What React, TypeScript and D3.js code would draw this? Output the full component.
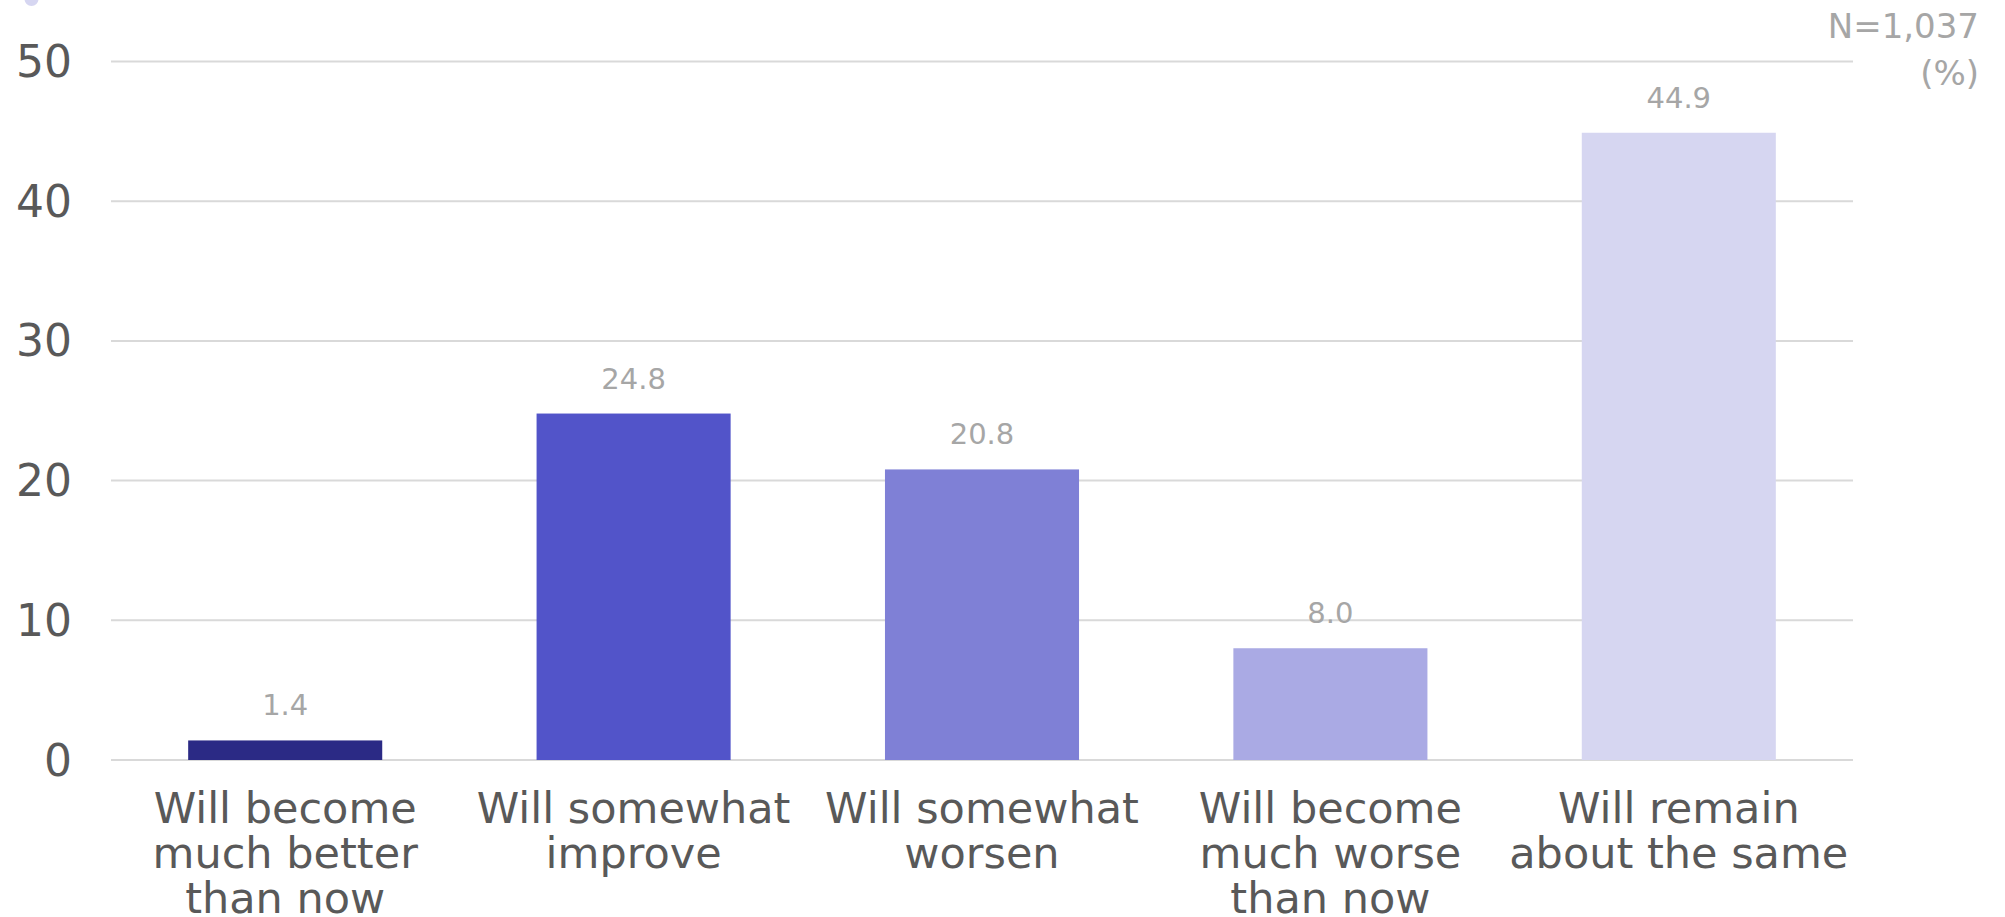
import React from "react";
import * as d3 from "d3";

const categories: string[][] = [
  ["Will become", "much better", "than now"],
  ["Will somewhat", "improve"],
  ["Will somewhat", "worsen"],
  ["Will become", "much worse", "than now"],
  ["Will remain", "about the same"],
];
const values: number[] = [1.4, 24.8, 20.8, 8.0, 44.9];
const valueLabels: string[] = ["1.4", "24.8", "20.8", "8.0", "44.9"];
const barColors: string[] = ["#2b2a85", "#5254c9", "#7f80d6", "#aaaae4", "#d6d6f1"];
const yTicks: number[] = [0, 10, 20, 30, 40, 50];
const noteLines: string[] = ["N=1,037", "(%)"];

const W = 2005;
const H = 917;
const FONT = "'DejaVu Sans', Verdana, sans-serif";

export default function App() {
  const left = 111;
  const right = 1853;
  const y0 = 760;
  const y50 = 61.5;

  const x = d3
    .scaleBand<number>()
    .domain(values.map((_, i) => i))
    .range([left, right])
    .paddingInner(0.443)
    .paddingOuter(0.2215);
  const y = d3.scaleLinear().domain([0, 50]).range([y0, y50]);

  return (
    <svg
      width={W}
      height={H}
      style={{ position: "absolute", left: 0, top: 0, background: "#fff" }}
      fontFamily={FONT}
    >
      <rect x={0} y={0} width={W} height={H} fill="#fff" />
      <circle cx={31.5} cy={-1} r={7} fill="#d6d6f1" />
      {yTicks.map((t) => (
        <g key={t}>
          <line x1={left} x2={right} y1={y(t)} y2={y(t)} stroke="#d9d9d9" strokeWidth={2} />
          <text
            x={72}
            y={y(t)}
            textAnchor="end"
            dominantBaseline="central"
            fontSize={44}
            fill="#595959"
          >
            {t}
          </text>
        </g>
      ))}
      {values.map((v, i) => (
        <rect
          key={i}
          x={x(i)!}
          y={y(v)}
          width={x.bandwidth()}
          height={y(0) - y(v)}
          fill={barColors[i]}
        />
      ))}
      {values.map((v, i) => (
        <text
          key={"l" + i}
          x={x(i)! + x.bandwidth() / 2}
          y={y(v) - 25}
          textAnchor="middle"
          fontSize={29}
          fill="#a6a6a6"
        >
          {valueLabels[i]}
        </text>
      ))}
      {categories.map((lines, i) => (
        <text
          key={"c" + i}
          x={x(i)! + x.bandwidth() / 2}
          textAnchor="middle"
          fontSize={43}
          fill="#595959"
        >
          {lines.map((ln, j) => (
            <tspan key={j} x={x(i)! + x.bandwidth() / 2} y={823 + j * 45}>
              {ln}
            </tspan>
          ))}
        </text>
      ))}
      {noteLines.map((ln, j) => (
        <text key={"n" + j} x={1979} y={38 + j * 47} textAnchor="end" fontSize={34} fill="#a6a6a6">
          {ln}
        </text>
      ))}
    </svg>
  );
}
